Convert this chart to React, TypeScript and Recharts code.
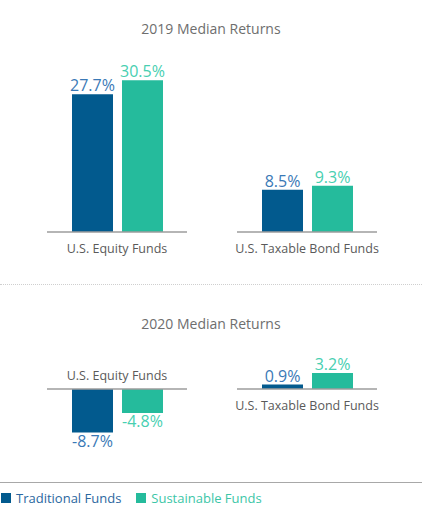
import React from 'react';
import { BarChart, Bar, XAxis, YAxis, ReferenceLine, LabelList, Legend } from 'recharts';

const categories = ['U.S. Equity Funds', 'U.S. Taxable Bond Funds'];
const traditional2019 = [27.7, 8.5];
const sustainable2019 = [30.5, 9.3];
const traditional2020 = [-8.7, 0.9];
const sustainable2020 = [-4.8, 3.2];
const seriesNames = ['Traditional Funds', 'Sustainable Funds'];
const titles = ['2019 Median Returns', '2020 Median Returns'];

const FONT = '"Open Sans", "Noto Sans", sans-serif';
const TRAD = '#025a8e';
const SUST = '#25bb9c';
const TRAD_TEXT = '#3a79b6';
const SUST_TEXT = '#48cfb1';
const LEGEND_TEXT = ['#2b67a0', '#3cc6a7'];
const SERIES_FILL = [TRAD, SUST];
const AXIS = '#9c9c9c';
const CAT_TEXT = '#5a5a5a';

const build = (a: number[], b: number[]) =>
  categories.map((c, i) => ({ category: c, traditional: a[i], sustainable: b[i] }));

const data2019 = build(traditional2019, sustainable2019);
const data2020 = build(traditional2020, sustainable2020);

const fmt = (v: any) => `${Number(v).toFixed(1)}%`;

const makeBaseline = (rows: { category: string; traditional: number; sustainable: number }[]) =>
  (props: any) => {
    const { x1, x2, y1 } = props;
    const n = rows.length;
    const band = (x2 - x1) / n;
    const pad = 25;
    return (
      <g>
        {rows.map((r, i) => {
          const start = x1 + band * i + pad;
          const end = x1 + band * (i + 1) - pad;
          const cx = (start + end) / 2;
          const negative = Math.min(r.traditional, r.sustainable) < 0;
          return (
            <g key={r.category}>
              <line x1={start} x2={end} y1={y1} y2={y1} stroke={AXIS} strokeWidth={1.5} />
              <text
                x={cx}
                y={negative ? y1 - 9 : y1 + 21}
                textAnchor="middle"
                fontFamily={FONT}
                fontSize={12.5}
                fill={CAT_TEXT}
              >
                {r.category}
              </text>
            </g>
          );
        })}
      </g>
    );
  };

const legendContent = () => {
  return (
    <div style={{ display: 'flex', alignItems: 'center', fontFamily: FONT, fontSize: 13 }}>
      {seriesNames.map((name, i) => (
        <div key={name} style={{ display: 'flex', alignItems: 'center', marginRight: 14 }}>
          <span style={{ display: 'inline-block', width: 10, height: 10, background: SERIES_FILL[i], marginLeft: 1, marginRight: 5 }} />
          <span style={{ color: LEGEND_TEXT[i] }}>{name}</span>
        </div>
      ))}
    </div>
  );
};

const titleStyle: React.CSSProperties = {
  position: 'absolute',
  left: 0,
  width: 422,
  textAlign: 'center',
  fontFamily: FONT,
  fontSize: 14,
  color: '#6e6e6e',
};

export default function App() {
  return (
    <div style={{ position: 'absolute', left: 0, top: 0, width: 448, height: 521, background: '#fff', overflow: 'hidden' }}>
      <div style={{ ...titleStyle, top: 19 }}>{titles[0]}</div>
      <div style={{ position: 'absolute', left: 0, top: 0 }}>
        <BarChart
          width={448}
          height={260}
          data={data2019}
          margin={{ top: 58, right: 46, bottom: 28, left: 22 }}
          barSize={41}
          barGap={9}
        >
          <XAxis dataKey="category" hide />
          <YAxis hide domain={[0, 35]} />
          <Bar dataKey="traditional" name={seriesNames[0]} fill={TRAD} isAnimationActive={false}>
            <LabelList dataKey="traditional" position="top" offset={3} formatter={fmt} fill={TRAD_TEXT} fontFamily={FONT} fontSize={16} />
          </Bar>
          <Bar dataKey="sustainable" name={seriesNames[1]} fill={SUST} isAnimationActive={false}>
            <LabelList dataKey="sustainable" position="top" offset={3} formatter={fmt} fill={SUST_TEXT} fontFamily={FONT} fontSize={16} />
          </Bar>
          <ReferenceLine y={0} shape={makeBaseline(data2019)} />
        </BarChart>
      </div>

      <div style={{ position: 'absolute', left: 0, top: 284, width: 422, borderTop: '1.5px dotted #cfcfcf' }} />

      <div style={{ ...titleStyle, top: 314 }}>{titles[1]}</div>
      <div style={{ position: 'absolute', left: 0, top: 290 }}>
        <BarChart
          width={448}
          height={231}
          data={data2020}
          margin={{ top: 69, right: 46, bottom: 72, left: 22 }}
          barSize={41}
          barGap={9}
        >
          <XAxis dataKey="category" hide />
          <YAxis hide domain={[-12, 6]} />
          <Bar dataKey="traditional" name={seriesNames[0]} fill={TRAD} isAnimationActive={false}>
            <LabelList dataKey="traditional" position="top" offset={3} formatter={fmt} fill={TRAD_TEXT} fontFamily={FONT} fontSize={16} />
          </Bar>
          <Bar dataKey="sustainable" name={seriesNames[1]} fill={SUST} isAnimationActive={false}>
            <LabelList dataKey="sustainable" position="top" offset={3} formatter={fmt} fill={SUST_TEXT} fontFamily={FONT} fontSize={16} />
          </Bar>
          <ReferenceLine y={0} shape={makeBaseline(data2020)} />
          <Legend
            verticalAlign="middle"
            align="center"
            layout="horizontal"
            content={legendContent}
            wrapperStyle={{ position: 'absolute', left: 0, top: 199, width: 300, height: 20 }}
          />
        </BarChart>
      </div>

      <div style={{ position: 'absolute', left: 0, top: 482, width: 422, borderTop: '1.5px solid #a8a8a8' }} />
    </div>
  );
}
